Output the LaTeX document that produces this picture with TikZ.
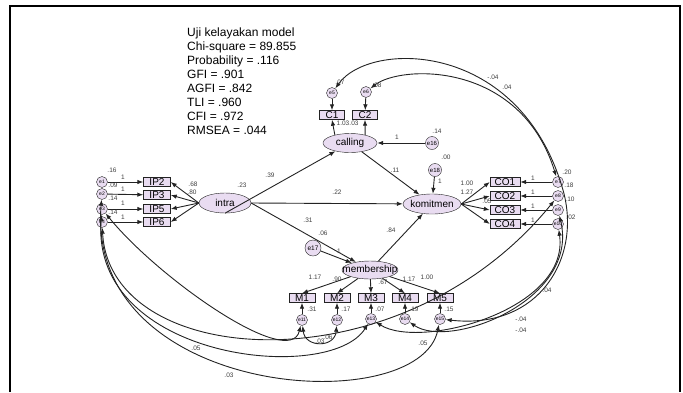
\documentclass[tikz,border=0pt]{standalone}
\usepackage{fontspec}
\setmainfont{Liberation Sans}
\usetikzlibrary{arrows.meta,shapes.geometric}
\definecolor{lav}{RGB}{233,220,241}
\definecolor{lnc}{RGB}{35,35,35}

\begin{document}
\begin{tikzpicture}[x=1pt,y=-1pt,>={Latex[length=6pt,width=4.5pt]},
  every node/.style={inner sep=0pt},
  latent/.style={ellipse,draw=lnc,fill=lav,label={[font=\fontsize{10}{10}\selectfont]center:#1}},
  obs/.style={draw=lnc,fill=lav,minimum height=9pt,font=\fontsize{10}{10}\selectfont},
  errc/.style={circle,draw=lnc,fill=lav,minimum size=11pt,font=\fontsize{5}{5}\selectfont},
  lbl/.style={font=\fontsize{6.5}{6.5}\selectfont,text=black!75},
  reg/.style={->,draw=lnc,line width=0.9pt},
  cov/.style={<->,draw=lnc,line width=0.9pt}]
\useasboundingbox (0,0) rectangle (683,392);
\draw[line width=2.2pt] (10,392) -- (10,6) -- (680,6) -- (680,392);
\node[anchor=north west,align=left,font=\fontsize{12}{14}\selectfont] (fitinfo) at (187,28) {Uji kelayakan model\\Chi-square = 89.855\\Probability = .116\\GFI = .901\\AGFI = .842\\TLI = .960\\CFI = .972\\RMSEA = .044};
\node[latent=intra,minimum width=52pt,minimum height=20pt] (intra) at (225,203) {};
\node[latent=calling,minimum width=54pt,minimum height=19pt] (calling) at (350,143) {};
\node[latent=komitmen,minimum width=58pt,minimum height=20pt] (komitmen) at (432,204) {};
\node[latent=membership,minimum width=56pt,minimum height=18pt] (membership) at (370,270) {};
\node[obs,minimum width=27pt] (ip2) at (157,182) {IP2};
\node[obs,minimum width=27pt] (ip3) at (157,195) {IP3};
\node[obs,minimum width=27pt] (ip5) at (157,209) {IP5};
\node[obs,minimum width=27pt] (ip6) at (157,222) {IP6};
\node[obs,minimum width=25pt] (c1) at (332,115) {C1};
\node[obs,minimum width=25pt] (c2) at (365,115) {C2};
\node[obs,minimum width=30pt] (co1) at (505,182) {CO1};
\node[obs,minimum width=30pt] (co2) at (505,196) {CO2};
\node[obs,minimum width=30pt] (co3) at (505,210) {CO3};
\node[obs,minimum width=30pt] (co4) at (505,224) {CO4};
\node[obs,minimum width=26pt] (m1) at (302,298) {M1};
\node[obs,minimum width=26pt] (m2) at (337,298) {M2};
\node[obs,minimum width=26pt] (m3) at (371,298) {M3};
\node[obs,minimum width=26pt] (m4) at (405,298) {M4};
\node[obs,minimum width=26pt] (m5) at (440,298) {M5};
\node[errc] (ip2e) at (102,182) {e1};
\node[errc] (ip3e) at (102,194) {e2};
\node[errc] (ip5e) at (102,209) {e3};
\node[errc] (ip6e) at (102,222) {e4};
\node[errc] (c1e) at (332,93) {e5};
\node[errc] (c2e) at (366,92) {e6};
\node[errc] (co1e) at (558,182) {e7};
\node[errc] (co2e) at (558,196) {e8};
\node[errc] (co3e) at (558,210) {e9};
\node[errc] (co4e) at (558,224) {e10};
\node[errc] (m1e) at (302,320) {e11};
\node[errc] (m2e) at (337,320) {e12};
\node[errc] (m3e) at (371,319) {e13};
\node[errc] (m4e) at (405,319) {e14};
\node[errc] (m5e) at (440,319) {e15};
\node[errc,minimum size=13pt,font=\fontsize{6}{6}\selectfont] (e16) at (432,143) {e16};
\node[errc,minimum size=13pt,font=\fontsize{6}{6}\selectfont] (e18) at (435,170) {e18};
\node[errc,minimum size=16pt,font=\fontsize{6.5}{6.5}\selectfont] (e17) at (313,248) {e17};
\draw[reg] (intra.west) -- (ip2.east);
\draw[reg] (intra.west) -- (ip3.east);
\draw[reg] (intra.west) -- (ip5.east);
\draw[reg] (intra.west) -- (ip6.east);
\draw[reg] (ip2e) -- (ip2);\draw[reg] (ip3e) -- (ip3);\draw[reg] (ip5e) -- (ip5);\draw[reg] (ip6e) -- (ip6);
\draw[reg] (intra.south) -- (calling);
\draw[reg] (intra.east) -- (komitmen);
\draw[reg] (intra.east) -- (membership);
\draw[reg] (calling) -- (komitmen);
\draw[reg] (membership) -- (komitmen);
\draw[reg] (calling.152) -- (c1.south);\draw[reg] (calling.28) -- (c2.south);
\draw[reg] (c1e) -- (c1);\draw[reg] (c2e) -- (c2);
\draw[reg] (e16) -- (calling);
\draw[reg] (e18) -- (komitmen);
\draw[reg] (e17) -- (membership);
\draw[reg] (komitmen.east) -- (co1.west);
\draw[reg] (komitmen.east) -- (co2.west);
\draw[reg] (komitmen.east) -- (co3.west);
\draw[reg] (komitmen.east) -- (co4.west);
\draw[reg] (co1e) -- (co1);\draw[reg] (co2e) -- (co2);\draw[reg] (co3e) -- (co3);\draw[reg] (co4e) -- (co4);
\draw[reg] (membership) -- (m1.north);
\draw[reg] (membership) -- (m2.north);
\draw[reg] (membership) -- (m3.north);
\draw[reg] (membership) -- (m4.north);
\draw[reg] (membership) -- (m5.north);
\draw[reg] (m1e) -- (m1);\draw[reg] (m2e) -- (m2);\draw[reg] (m3e) -- (m3);\draw[reg] (m4e) -- (m4);\draw[reg] (m5e) -- (m5);
\draw[cov] (c1e) .. controls (370,40) and (520,40) .. (563,190) .. controls (582,257) and (540,330) .. (m5e);
\draw[cov] (c2e) .. controls (400,65) and (520,60) .. (co1e);
\draw[cov] (co4e) .. controls (570,310) and (420,350) .. (m3e);
\draw[cov] (co3e) .. controls (580,300) and (450,350) .. (m4e);
\draw[cov] (ip6e) .. controls (110,370) and (400,390) .. (co2e);
\draw[cov] (ip5e) .. controls (160,280) and (290,370) .. (m1e);
\draw[cov] (ip3e) .. controls (85,400) and (420,420) .. (m5e);
\draw[cov] (ip5e) .. controls (90,360) and (330,385) .. (m3e);
\draw[cov] (m1e) .. controls (305,348) and (335,348) .. (m2e);
\node[lbl] (v1) at (112,170) {.16};
\node[lbl] (v2) at (113,185) {.09};
\node[lbl] (v3) at (113,198) {.14};
\node[lbl] (v4) at (113,212) {.14};
\node[lbl] (w1) at (123,177) {1};
\node[lbl] (w2) at (123,189) {1};
\node[lbl] (w3) at (123,203) {1};
\node[lbl] (w4) at (123,217) {1};
\node[lbl] (l1) at (193,184) {.68};
\node[lbl] (l2) at (192,192) {.80};
\node[lbl] (vintra) at (242,185) {.23};
\node[lbl] (pic) at (270,175) {.39};
\node[lbl] (pik) at (337,192) {.22};
\node[lbl] (pim) at (308,220) {.31};
\node[lbl] (v17) at (323,233) {.06};
\node[lbl] (pck) at (395,170) {.11};
\node[lbl] (w16) at (397,137) {1};
\node[lbl] (v16) at (437,131) {.14};
\node[lbl] (v18) at (446,157) {.00};
\node[lbl] (w18) at (440,181) {1};
\node[lbl] (pmk) at (391,230) {.84};
\node[lbl] (w17) at (339,251) {1};
\node[lbl] (lc1) at (343,123) {1.03};
\node[lbl] (lc2) at (354,123) {.03};
\node[lbl] (v5) at (340,82) {.07};
\node[lbl] (v6) at (377,85) {.08};
\node[lbl] (k1) at (493,77) {-.04};
\node[lbl] (k2) at (507,87) {.04};
\node[lbl] (lco1) at (467,183) {1.00};
\node[lbl] (lco2) at (467,192) {1.27};
\node[lbl] (lco3) at (487,201) {.05};
\node[lbl] (w7) at (533,178) {1};
\node[lbl] (w8) at (533,192) {1};
\node[lbl] (w9) at (533,206) {1};
\node[lbl] (w10) at (533,220) {1};
\node[lbl] (v7) at (567,172) {.20};
\node[lbl] (v8) at (569,185) {.18};
\node[lbl] (v9) at (570,199) {.10};
\node[lbl] (v10) at (571,217) {.02};
\node[lbl] (lm1) at (315,277) {1.17};
\node[lbl] (lm2) at (337,279) {.90};
\node[lbl] (lm3) at (383,282) {.67};
\node[lbl] (lm4) at (409,279) {1.17};
\node[lbl] (lm5) at (427,277) {1.00};
\node[lbl] (v11) at (312,309) {.31};
\node[lbl] (v12) at (346,309) {.17};
\node[lbl] (v13) at (380,309) {.07};
\node[lbl] (v14) at (414,309) {.19};
\node[lbl] (v15) at (449,309) {.15};
\node[lbl] (k3) at (320,341) {.03};
\node[lbl] (k4) at (328,337) {.06};
\node[lbl] (k5) at (423,343) {.05};
\node[lbl] (k6) at (521,319) {-.04};
\node[lbl] (k7) at (521,330) {-.04};
\node[lbl] (k8) at (547,290) {.04};
\node[lbl] (k9) at (196,348) {.05};
\node[lbl] (k10) at (229,375) {.03};
\end{tikzpicture}
\end{document}
